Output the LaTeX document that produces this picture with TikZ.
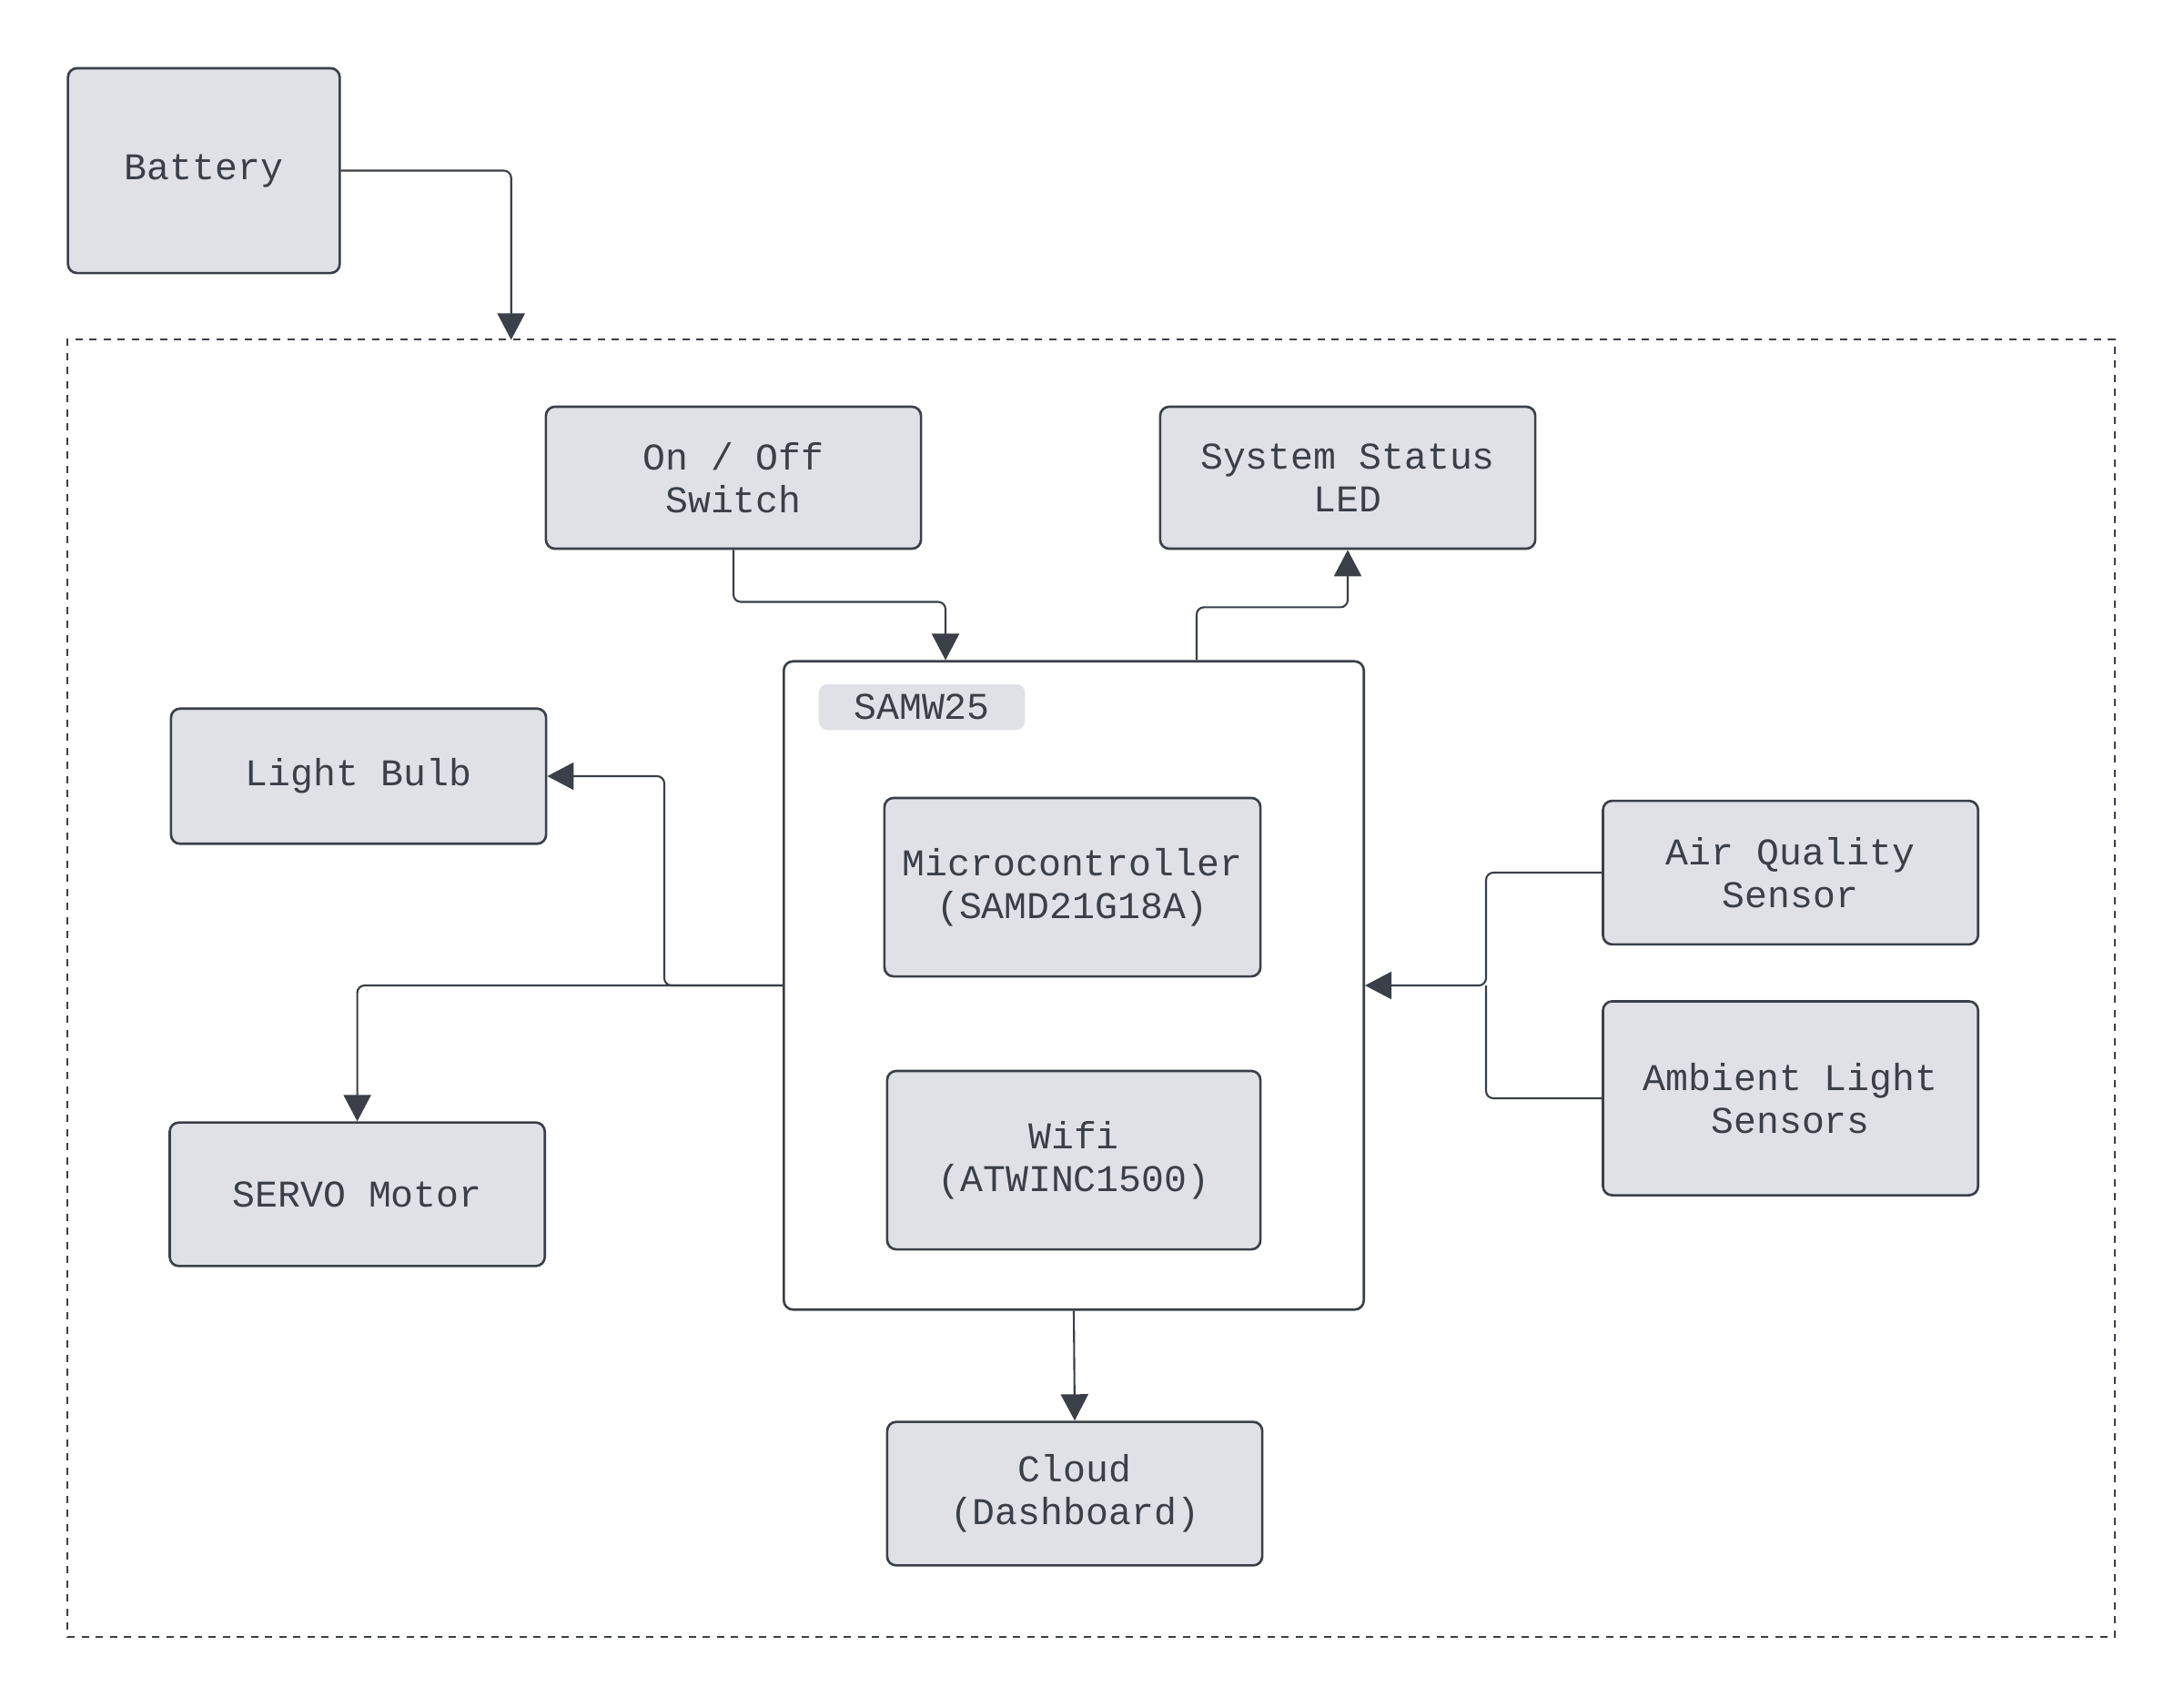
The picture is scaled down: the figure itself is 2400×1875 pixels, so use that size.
\documentclass[tikz,border=0pt]{standalone}
\usepackage{fontspec}
\newfontfamily\diagfont{Liberation Mono}
\usetikzlibrary{arrows.meta,calc}
\definecolor{boxfill}{HTML}{DFE1E6}
\definecolor{ink}{HTML}{3A3F48}
\tikzset{
  blk/.style={draw=ink, line width=0.75pt, fill=boxfill, rounded corners=0.1cm,
    inner sep=0pt, align=center, text=ink,
    font=\diagfont\fontsize{11.8}{13.4}\selectfont},
  conn/.style={draw=ink, line width=0.6pt, rounded corners=0.08cm},
  tip/.style={-{Triangle[length=0.29cm,width=0.3cm]}},
}
\begin{document}
\begin{tikzpicture}[x=0.01cm,y=-0.01cm]
\useasboundingbox (0,0) rectangle (2400,1875);
% outer dashed frame
\node[draw=ink, line width=0.55pt, dash pattern=on 0.08cm off 0.075cm,
  minimum width=22.485cm, minimum height=14.25cm, inner sep=0pt] (frame) at (1199.2,1086) {};
% boxes
\node[blk, minimum width=2.985cm, minimum height=2.25cm] (bat) at (224,187.5) {Battery};
\node[blk, minimum width=4.12cm, minimum height=1.56cm] (sw) at (806,525) {On / Off\\Switch};
\node[blk, minimum width=4.12cm, minimum height=1.56cm] (led) at (1481,525) {System Status\\LED};
\node[blk, fill=white, minimum width=6.37cm, minimum height=7.12cm] (sam) at (1180,1083) {};
\node[blk, draw=none, minimum width=2.265cm, minimum height=0.505cm] (samlbl) at (1013,777) {SAMW25};
\node[blk, minimum width=4.13cm, minimum height=1.96cm] (mcu) at (1178.5,975) {Microcontroller\\(SAMD21G18A)};
\node[blk, minimum width=4.10cm, minimum height=1.96cm] (wifi) at (1180,1275) {Wifi\\(ATWINC1500)};
\node[blk, minimum width=4.12cm, minimum height=1.485cm] (bulb) at (394,853) {Light Bulb};
\node[blk, minimum width=4.12cm, minimum height=1.576cm] (servo) at (392.6,1312.5) {SERVO Motor};
\node[blk, minimum width=4.12cm, minimum height=1.577cm] (air) at (1967.6,959) {Air Quality\\Sensor};
\node[blk, minimum width=4.12cm, minimum height=2.13cm] (amb) at (1967.6,1207) {Ambient Light\\Sensors};
\node[blk, minimum width=4.12cm, minimum height=1.577cm] (cloud) at (1181,1641.5) {Cloud\\(Dashboard)};
% connectors
\coordinate (batin) at (561.7,373.5);
\draw[conn,tip] (bat.east) -| (batin);
\draw[conn,tip] (sw.south) |- ($(sam.north)+(-141,-64)$) -- ($(sam.north)+(-141,0)$);
\draw[conn,tip] ($(sam.north)+(135,0)$) |- ($(led.south)+(0,63)$) -- (led.south);
\draw[conn,tip] (sam.west) -- ($(sam.west)+(-130,0)$) |- (bulb.east);
\draw[conn,tip] (sam.west) -| (servo.north);
\draw[conn,tip] (air.west) -| ($(sam.east)+(133,0)$) -- (sam.east);
\draw[conn] (amb.west) -| ($(sam.east)+(133,0)$);
\draw[conn,tip] (sam.south) -- (cloud.north);
\end{tikzpicture}
\end{document}
